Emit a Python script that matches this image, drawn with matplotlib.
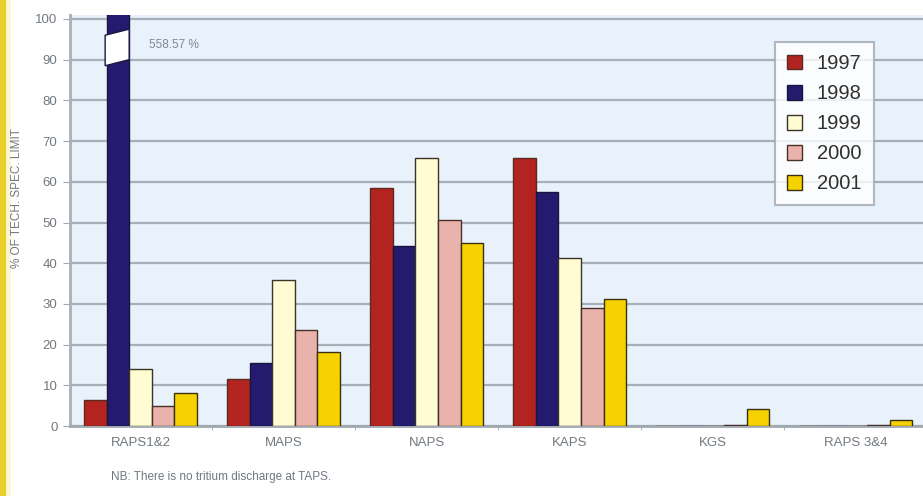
import numpy as np
import matplotlib.pyplot as plt
from matplotlib.patches import Polygon, Rectangle

# Data (% of tech. spec. limit)
sites = ['RAPS1&2', 'MAPS', 'NAPS', 'KAPS', 'KGS', 'RAPS 3&4']
years = ['1997', '1998', '1999', '2000', '2001']
v1997 = [6.5, 11.5, 58.5, 65.8, 0.0, 0.0]
v1998 = [558.57, 15.5, 44.3, 57.6, 0.0, 0.0]
v1999 = [14.0, 35.8, 65.8, 41.2, 0.0, 0.0]
v2000 = [5.0, 23.7, 50.7, 29.0, 0.3, 0.3]
v2001 = [8.0, 18.3, 45.0, 31.2, 4.3, 1.5]
series = [v1997, v1998, v1999, v2000, v2001]
colors = ['#b3231f', '#241b6e', '#fffbd2', '#e9b3ab', '#f6d200']
edges = ['#5a2a20', '#1a1440', '#3a3428', '#4a2e28', '#3a3010']

plt.rcParams['font.family'] = ['Liberation Sans', 'DejaVu Sans']

fig = plt.figure(figsize=(9.23, 4.96), dpi=100)
fig.patch.set_facecolor('white')
# yellow stripe on the left edge
fig.patches.append(Rectangle((0, 0), 0.007, 1, transform=fig.transFigure,
                             facecolor='#e8cf2a', edgecolor='none'))
fig.patches.append(Rectangle((0.007, 0), 0.005, 1, transform=fig.transFigure,
                             facecolor='#fbf6cc', edgecolor='none'))

ax = fig.add_axes([0.0758, 0.141, 0.9242, 0.829])
ax.set_facecolor('#e9f2fb')

x = np.arange(len(sites))
width = 0.158
ymax = 101
bars = []
for i, vals in enumerate(series):
    h = [min(v, ymax + 1) for v in vals]
    b = ax.bar(x + (i - 2) * width, h, width, color=colors[i],
               edgecolor=edges[i], linewidth=1.0, label=years[i], zorder=3)
    bars.append(b)

# break marker on the off-scale bar
r = bars[1][0]
x0, x1 = r.get_x(), r.get_x() + r.get_width()
brk = Polygon([(x0 - 0.01, 88.5), (x1, 90), (x1, 97.5), (x0 - 0.01, 96)],
              closed=True, facecolor='white', edgecolor='#1a1440',
              linewidth=1.0, zorder=4)
ax.add_patch(brk)
ax.annotate('{} %'.format(v1998[0]), xy=(x1, 93.5), xytext=(14, 0),
            textcoords='offset points', va='center', ha='left',
            fontsize=8.5, color='#808890')

ax.set_ylim(0, ymax)
ax.set_xlim(-0.493, 5.47)
ax.set_yticks(np.arange(0, 101, 10))
ax.yaxis.grid(True, color='#a7afb8', linewidth=1.6, zorder=1)
ax.set_axisbelow(True)
ax.set_xticks(x)
ax.set_xticklabels(sites)
ax.set_xticks(x[:-1] + 0.5, minor=True)
ax.tick_params(axis='x', which='major', length=0, pad=8, labelsize=9.5,
               labelcolor='#707880')
ax.tick_params(axis='x', which='minor', length=3, color='#a0a8b0')
ax.tick_params(axis='y', length=5, color='#a0a8b0', labelsize=9.5,
               labelcolor='#707880', pad=4)
for s in ['top', 'right']:
    ax.spines[s].set_visible(False)
ax.spines['left'].set_color('#a8b0b8')
ax.spines['left'].set_linewidth(2)
ax.spines['bottom'].set_color('#a0a8b0')
ax.spines['bottom'].set_linewidth(2)

fig.text(0.018, 0.6, '% OF TECH. SPEC. LIMIT', rotation=90, ha='center',
         va='center', fontsize=8.5, color='#707880')
fig.text(0.12, 0.032, 'NB: There is no tritium discharge at TAPS.',
         fontsize=8.5, color='#707880')

leg = ax.legend(loc='upper left', bbox_to_anchor=(0.826, 0.934),
                fontsize=14.5, frameon=True, fancybox=False,
                handlelength=0.75, handleheight=0.75, handletextpad=0.75,
                labelspacing=0.55, borderpad=0.6, borderaxespad=0,
                labelcolor='#303030')
leg.get_frame().set_edgecolor('#a0a8b0')
leg.get_frame().set_linewidth(1.5)

fig.savefig('out.png', dpi=100)
